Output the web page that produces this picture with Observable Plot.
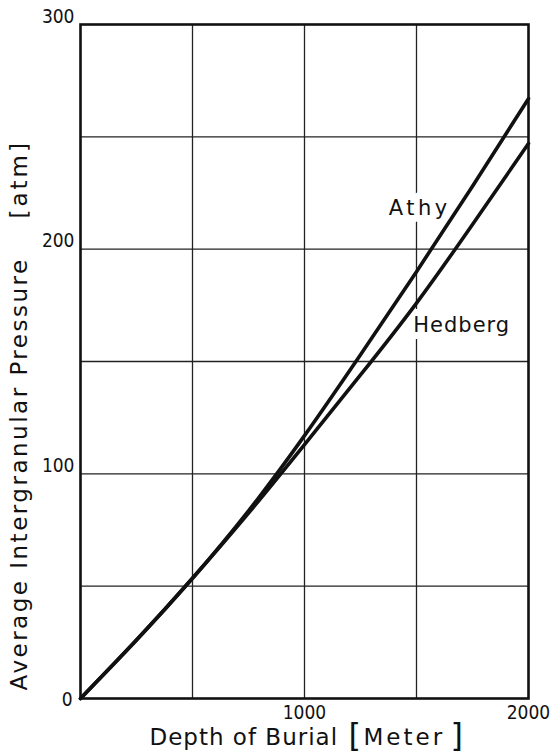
<!DOCTYPE html>
<html>
<head>
<meta charset="utf-8">
<script src="https://cdn.jsdelivr.net/npm/d3@7"></script>
<script src="https://cdn.jsdelivr.net/npm/@observablehq/plot@0.6"></script>
<style>
  html, body { margin: 0; padding: 0; background: #fff; }
  #chart svg { display: block; }
</style>
</head>
<body>
<div id="chart"></div>
<script>
// Depth of burial (m)
const depth = [0, 250, 500, 750, 1000, 1250, 1500, 1750, 2000];
// Average intergranular pressure (atm)
const athy = [0, 26, 53.5, 83.5, 117, 153, 190, 228, 267];
const hedberg = [0, 26, 53.5, 82.5, 113, 144, 176, 211, 247];

const xGrid = [500, 1000, 1500];
const yGrid = [50, 100, 150, 200, 250];
const xTickLabels = [1000, 2000];
const yTickLabels = [100, 200, 300];
const originLabel = [0];

const seriesLabelPos = [
  {name: "Athy", depth: 1514, pressure: 218},
  {name: "Hedberg", depth: 1702, pressure: 166}
];

const xTitle = "Depth of Burial";
const xUnit = "Meter";
const yTitle = "Average Intergranular Pressure";
const yUnit = "[atm]";

const rows = [];
depth.forEach((d, i) => {
  rows.push({series: "Athy", depth: d, pressure: athy[i]});
  rows.push({series: "Hedberg", depth: d, pressure: hedberg[i]});
});

const font = "DejaVu Sans, Verdana, sans-serif";
const tickFont = "'DejaVu Sans Condensed', 'DejaVu Sans', sans-serif";

const chart = Plot.plot({
  width: 554,
  height: 753,
  marginTop: 24,
  marginLeft: 80,
  marginRight: 26,
  marginBottom: 55,
  style: {fontFamily: font, background: "#fff", color: "#111"},
  x: {domain: [0, 2000], axis: null},
  y: {domain: [0, 300], axis: null},
  marks: [
    Plot.ruleX(xGrid, {x: d => d, stroke: "#222", strokeWidth: 1.3}),
    Plot.ruleY(yGrid, {y: d => d, stroke: "#222", strokeWidth: 1.3}),
    Plot.text(seriesLabelPos, {
      x: "depth", y: "pressure", text: "name",
      fontSize: 21, fill: "#111", stroke: "white", strokeWidth: 14,
      lineAnchor: "middle", textAnchor: "middle"
    }),
    Plot.line(rows, {
      x: "depth", y: "pressure", z: "series",
      curve: "natural", stroke: "#111", strokeWidth: 3.6
    }),
    Plot.frame({stroke: "#111", strokeWidth: 2.6}),
    Plot.text(yTickLabels, {
      y: d => d, text: d => String(d), frameAnchor: "left",
      dx: -6, dy: -8, textAnchor: "end", lineAnchor: "middle",
      fontSize: 19, fontFamily: tickFont, fill: "#111"
    }),
    Plot.text(originLabel, {
      y: d => d, text: d => String(d), frameAnchor: "left",
      dx: -8, dy: 1, textAnchor: "end", lineAnchor: "middle",
      fontSize: 19, fontFamily: tickFont, fill: "#111"
    }),
    Plot.text(xTickLabels, {
      x: d => d, text: d => String(d), frameAnchor: "bottom",
      dy: 14, textAnchor: "middle", lineAnchor: "middle",
      fontSize: 19, fontFamily: tickFont, fill: "#111"
    }),
    Plot.text([xTitle], {
      text: d => d, frameAnchor: "bottom-left",
      dx: 69, dy: 39, textAnchor: "start", lineAnchor: "middle",
      fontSize: 23, fill: "#111"
    }),
    Plot.text(["["], {
      text: d => d, frameAnchor: "bottom-left",
      dx: 268, dy: 37, textAnchor: "start", lineAnchor: "middle",
      fontSize: 32, fill: "#111"
    }),
    Plot.text([xUnit], {
      text: d => d, frameAnchor: "bottom-left",
      dx: 283, dy: 39, textAnchor: "start", lineAnchor: "middle",
      fontSize: 23, fill: "#111"
    }),
    Plot.text(["]"], {
      text: d => d, frameAnchor: "bottom-left",
      dx: 370, dy: 37, textAnchor: "start", lineAnchor: "middle",
      fontSize: 32, fill: "#111"
    }),
    Plot.text([yTitle], {
      text: d => d, frameAnchor: "bottom-left", rotate: -90,
      dx: -61, dy: -8, textAnchor: "start", lineAnchor: "middle",
      fontSize: 23, fill: "#111"
    }),
    Plot.text([yUnit], {
      text: d => d, frameAnchor: "bottom-left", rotate: -90,
      dx: -61, dy: -480, textAnchor: "start", lineAnchor: "middle",
      fontSize: 23, fill: "#111"
    })
  ]
});

const spacing = new Map([
  ["Athy", "3.5px"],
  ["Hedberg", "1px"],
  [xTitle, "1px"],
  [xUnit, "3px"],
  [yTitle, "2.5px"],
  [yUnit, "3px"]
]);
chart.querySelectorAll("text").forEach(t => {
  const s = spacing.get(t.textContent.trim());
  if (s) {
    t.setAttribute("letter-spacing", s);
    t.style.letterSpacing = s;
  }
});

document.getElementById("chart").appendChild(chart);
</script>
</body>
</html>
